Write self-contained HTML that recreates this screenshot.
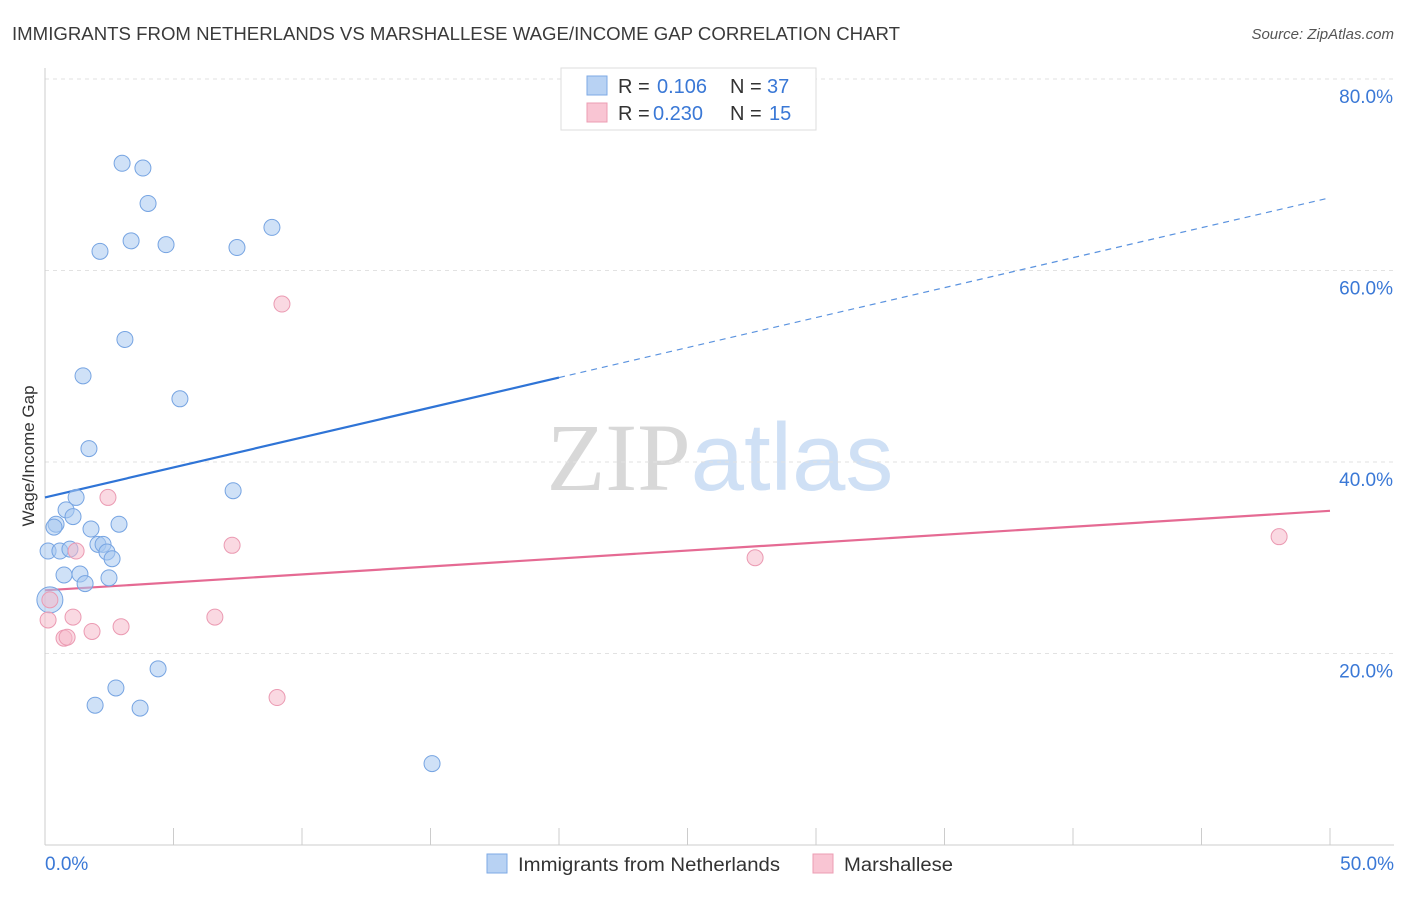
<!DOCTYPE html>
<html><head><meta charset="utf-8"><style>
body{margin:0;background:#fff;font-family:"Liberation Sans",sans-serif;}
svg text{font-family:"Liberation Sans",sans-serif;}
</style></head><body>
<svg id="chart" width="1406" height="892" xmlns="http://www.w3.org/2000/svg">
<text x="12" y="40" font-size="18" fill="#3a3a3a" textLength="888" lengthAdjust="spacingAndGlyphs">IMMIGRANTS FROM NETHERLANDS VS MARSHALLESE WAGE/INCOME GAP CORRELATION CHART</text>
<text x="1394" y="39" font-size="15" fill="#555" text-anchor="end" font-style="italic">Source: ZipAtlas.com</text>
<text x="720" y="490" font-size="96" text-anchor="middle"><tspan fill="#d8d8d8" font-family="Liberation Serif">ZIP</tspan><tspan fill="#cfe0f5">atlas</tspan></text>
<text transform="translate(34,456) rotate(-90)" font-size="17" fill="#333" text-anchor="middle">Wage/Income Gap</text>
<g id="grid"></g><g id="axes"></g><g id="lines"></g><g id="pts"></g>
<g>
<rect x="561" y="68" width="255" height="62" fill="#fff" stroke="#ddd"/>
<rect x="587" y="76" width="20" height="19" fill="#b8d2f3" stroke="#7eaae6"/>
<text x="618" y="93" font-size="20" fill="#333">R =</text>
<text x="657" y="93" font-size="20" fill="#3a78d6">0.106</text>
<text x="730" y="93" font-size="20" fill="#333">N =</text>
<text x="767" y="93" font-size="20" fill="#3a78d6">37</text>
<rect x="587" y="103" width="20" height="19" fill="#f9c5d3" stroke="#ec9db3"/>
<text x="618" y="120" font-size="20" fill="#333">R =</text>
<text x="653" y="120" font-size="20" fill="#3a78d6">0.230</text>
<text x="730" y="120" font-size="20" fill="#333">N =</text>
<text x="769" y="120" font-size="20" fill="#3a78d6">15</text>
</g>
<g>
<rect x="487" y="854" width="20" height="19" fill="#b8d2f3" stroke="#7eaae6"/>
<text x="518" y="871" font-size="19" fill="#333" textLength="262" lengthAdjust="spacingAndGlyphs">Immigrants from Netherlands</text>
<rect x="813" y="854" width="20" height="19" fill="#f9c5d3" stroke="#ec9db3"/>
<text x="844" y="871" font-size="19" fill="#333" textLength="109" lengthAdjust="spacingAndGlyphs">Marshallese</text>
</g>
</svg>
<script>
const blueX=[3.0,3.81,4.01,3.35,2.14,4.71,7.47,8.83,3.11,1.48,5.25,1.71,7.32,1.21,0.82,1.09,0.43,1.79,2.88,0.12,0.58,0.97,2.06,2.26,2.41,2.61,0.74,1.36,1.56,2.49,0.19,4.40,2.76,1.95,3.70,15.06,0.35];
const blueY=[71.2,70.7,67.0,63.1,62.0,62.7,62.4,64.5,52.8,49.0,46.6,41.4,37.0,36.3,35.0,34.3,33.5,33.0,33.5,30.7,30.7,30.9,31.4,31.4,30.6,29.9,28.2,28.3,27.3,27.9,25.6,18.4,16.4,14.6,14.3,8.5,33.2];
const pinkX=[9.22,2.45,7.28,1.21,27.63,48.02,0.19,1.09,6.61,2.96,1.83,0.74,0.86,0.12,9.03];
const pinkY=[56.5,36.3,31.3,30.7,30.0,32.2,25.6,23.8,23.8,22.8,22.3,21.6,21.7,23.5,15.4];
const yTicks=[20,40,60,80];
const xTickLabels=["0.0%","50.0%"];
const blueTrend=[36.3,67.6];
const pinkTrend=[26.6,34.9];
const NS="http://www.w3.org/2000/svg";
const sx=v=>45+v*25.7, sy=v=>845-v*9.575;
function mk(t,a,p){const e=document.createElementNS(NS,t);for(const k in a)e.setAttribute(k,a[k]);document.getElementById(p).appendChild(e);return e;}
yTicks.forEach(t=>{
 const l=mk('line',{x1:45,x2:1394,y1:sy(t),y2:sy(t),stroke:'#e2e2e2','stroke-dasharray':'4,4'},'grid');
 
 
 const tx=mk('text',{x:1393,y:sy(t)+24,'font-size':19,fill:'#3a78d6','text-anchor':'end'},'grid');
 tx.textContent=t.toFixed(1)+'%';
 
 
});
const ax=mk('line',{x1:45,x2:45,y1:68,y2:845,stroke:'#ccc'},'axes');


const bx=mk('line',{x1:45,x2:1394,y1:845,y2:845,stroke:'#ccc'},'axes');


for(let i=0;i<=10;i++){const t=mk('line',{x1:sx(i*5),x2:sx(i*5),y1:828,y2:845,stroke:'#ccc'},'axes');
 
 }
[[0,'start',45],[50,'end',1394]].forEach((d,i)=>{const t=mk('text',{x:d[2],y:870,'font-size':19,fill:'#3a78d6','text-anchor':d[1]},'axes');t.textContent=xTickLabels[i];
 
 });
const bAt=x=>blueTrend[0]+(blueTrend[1]-blueTrend[0])*x/50;
const l1=mk('line',{x1:sx(0),y1:sy(bAt(0)),x2:sx(20),y2:sy(bAt(20)),stroke:'#2f74d6','stroke-width':2.2},'lines');


const l2=mk('line',{x1:sx(20),y1:sy(bAt(20)),x2:sx(50),y2:sy(bAt(50)),stroke:'#5b93df','stroke-width':1.2,'stroke-dasharray':'6,5'},'lines');


const l3=mk('line',{x1:sx(0),y1:sy(pinkTrend[0]),x2:sx(50),y2:sy(pinkTrend[1]),stroke:'#e56a93','stroke-width':2.2},'lines');


blueX.forEach((x,i)=>{const c=mk('circle',{cx:sx(x),cy:sy(blueY[i]),r:i==30?13:8,fill:'rgba(168,200,240,0.55)',stroke:'#76a4e2','stroke-width':1},'pts');
 
 });
pinkX.forEach((x,i)=>{const c=mk('circle',{cx:sx(x),cy:sy(pinkY[i]),r:8,fill:'rgba(246,185,203,0.55)',stroke:'#eb9ab2','stroke-width':1},'pts');
 
 });
</script>
</body></html>
